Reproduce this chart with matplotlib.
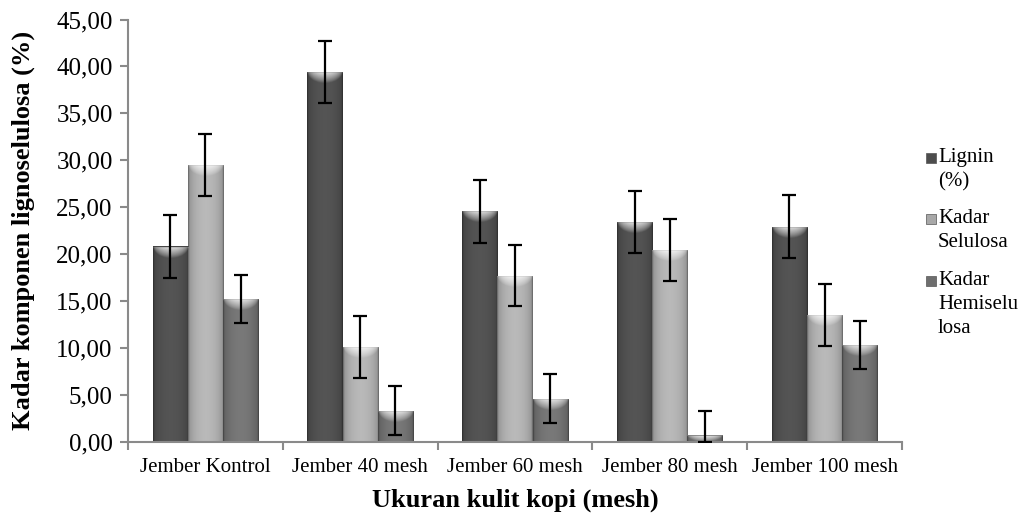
import numpy as np
import matplotlib
matplotlib.use("Agg")
import matplotlib.pyplot as plt
from matplotlib.patches import Rectangle

categories = ["Jember Kontrol", "Jember 40 mesh", "Jember 60 mesh", "Jember 80 mesh", "Jember 100 mesh"]
series_names = ["Lignin\n(%)", "Kadar\nSelulosa", "Kadar\nHemiselu\nlosa"]
lignin = [20.8, 39.4, 24.55, 23.4, 22.9]
selulosa = [29.5, 10.05, 17.7, 20.45, 13.5]
hemiselulosa = [15.2, 3.3, 4.55, 0.65, 10.3]
err_lignin = [3.35, 3.35, 3.35, 3.35, 3.35]
err_selulosa = [3.3, 3.3, 3.3, 3.3, 3.3]
err_hemi = [2.6, 2.6, 2.6, 2.6, 2.6]
y_ticks = [0, 5, 10, 15, 20, 25, 30, 35, 40, 45]

plt.rcParams['font.family'] = ['Liberation Serif', 'DejaVu Serif']

W, H = 1027, 517
fig = plt.figure(figsize=(W / 100, H / 100), dpi=100)
ax = fig.add_axes([128 / W, 1 - 441.5 / H, (902 - 128) / W, (441.5 - 19.5) / H])

x = np.arange(len(categories))
w = 0.227
series = [lignin, selulosa, hemiselulosa]
errs = [err_lignin, err_selulosa, err_hemi]
base_colors = [(0.30, 0.30, 0.30), (0.66, 0.66, 0.66), (0.43, 0.43, 0.43)]

t = np.linspace(0, 1, 64)
prof = 0.78 + 0.32 * np.sin(np.pi * t) ** 0.5
prof[:2] *= 0.8
prof[-2:] *= 0.8
rr = np.linspace(0, 1, 24)[:, None]
hh = np.sqrt(np.clip(1 - (2 * t[None, :] - 1) ** 2, 0, 1))
cap_alpha = np.clip(1 - (1 - rr) / np.maximum(hh * 0.95, 1e-3), 0, 1) ** 0.8 * 0.85 * hh
cap_alpha[-2:, :] = 0.0

for i, (vals, er, col) in enumerate(zip(series, errs, base_colors)):
    pos = x + (i - 1) * w
    bars = ax.bar(pos, vals, w, color=col, edgecolor='none', zorder=2)
    for b in bars:
        x0, y0 = b.get_x(), b.get_y()
        bw, bh = b.get_width(), b.get_height()
        img = np.zeros((1, 64, 3))
        for c in range(3):
            img[0, :, c] = np.clip(col[c] * prof, 0, 1)
        im = ax.imshow(img, extent=(x0, x0 + bw, y0, y0 + bh), aspect='auto',
                       zorder=2.5, interpolation='bilinear')
        im.set_clip_path(b)
        cap_h = min(1.3, bh)
        cap = np.ones((24, 64, 4))
        cap[:, :, 3] = cap_alpha
        cap[-2:, :, :3] = np.array(col) * 0.7
        cap[-2:, :, 3] = 0.8
        im2 = ax.imshow(cap, extent=(x0, x0 + bw, y0 + bh - cap_h, y0 + bh), aspect='auto',
                        zorder=2.6, interpolation='bilinear', origin='lower')
        im2.set_clip_path(b)
    lower = [min(e, v) for e, v in zip(er, vals)]
    ax.errorbar(pos, vals, yerr=[lower, er], fmt='none', ecolor='black',
                elinewidth=1.6, capsize=5, capthick=1.6, zorder=4)

ax.set_xlim(-0.5, len(categories) - 0.5)
ax.set_ylim(0, 45)
ax.set_yticks(y_ticks)
ax.set_yticklabels([f"{v:.2f}".replace('.', ',') for v in y_ticks], fontsize=18)
ax.set_xticks(x)
ax.set_xticklabels(categories, fontsize=15)
ax.tick_params(axis='x', length=0, pad=12)
ax.set_xticks(np.arange(len(categories) + 1) - 0.5, minor=True)
ax.tick_params(axis='x', which='minor', length=6, color='#8a8a8a', width=1.5)
ax.tick_params(axis='y', length=6, color='#8a8a8a', width=1.5, pad=5)
for s in ['top', 'right']:
    ax.spines[s].set_visible(False)
for s in ['left', 'bottom']:
    ax.spines[s].set_color('#8a8a8a')
    ax.spines[s].set_linewidth(1.5)

fig.text(515 / W, 1 - 500 / H, "Ukuran kulit kopi (mesh)", fontsize=19, fontweight='bold',
         ha='center', va='center')
fig.text(23 / W, 1 - 230 / H, "Kadar komponen lignoselulosa (%)", fontsize=19,
         fontweight='bold', rotation=90, ha='center', va='center')

# legend built manually so the key sits beside the first line of each label
entry_centers = [158, 219, 281]
for name, col, yc in zip(series_names, base_colors, entry_centers):
    fig.patches.append(Rectangle((926 / W, 1 - (yc + 5) / H), 10 / W, 10 / H,
                                 transform=fig.transFigure, facecolor=col,
                                 edgecolor='#555555', linewidth=0.5))
    fig.text(938 / W, 1 - (yc - 10) / H, name, fontsize=15, ha='left', va='top',
             linespacing=1.35)

fig.savefig("out.png", dpi=100)
